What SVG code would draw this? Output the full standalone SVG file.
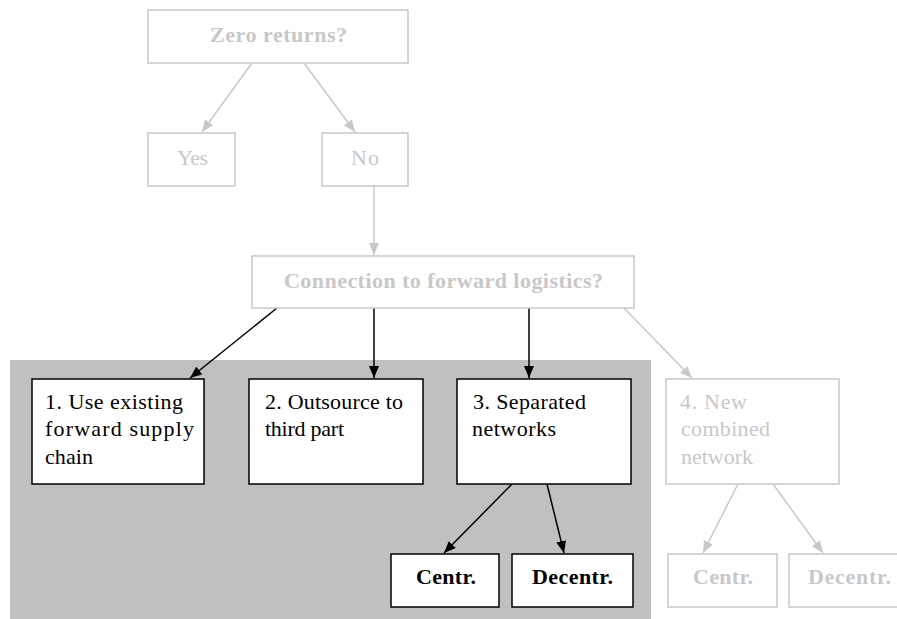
<svg xmlns="http://www.w3.org/2000/svg" width="897" height="619" viewBox="0 0 897 619">
  <defs>
    <marker id="arrowDark" viewBox="0 0 12 10" refX="12" refY="5" markerWidth="12" markerHeight="10" markerUnits="userSpaceOnUse" orient="auto">
      <path d="M0,0 L12,5 L0,10 Z" fill="#000"/>
    </marker>
    <marker id="arrowLight" viewBox="0 0 12 10" refX="12" refY="5" markerWidth="12" markerHeight="10" markerUnits="userSpaceOnUse" orient="auto">
      <path d="M0,0 L12,5 L0,10 Z" fill="#c8c8c8"/>
    </marker>
  </defs>
  <style>
    .box-dim { fill: #fff; stroke: #c8c8c8; stroke-width: 1.5; }
    .box { fill: #fff; stroke: #000; stroke-width: 1.5; }
    .t { font-family: "Liberation Serif", "Times New Roman", serif; font-size: 22px; }
    .t-dim { fill: #c8c8c8; }
    .t-dark { fill: #000; }
    .b { font-weight: bold; }
    .edge-dark { stroke: #000; stroke-width: 1.5; fill: none; marker-end: url(#arrowDark); }
    .edge-dim { stroke: #c8c8c8; stroke-width: 1.5; fill: none; marker-end: url(#arrowLight); }
  </style>

  <!-- shaded region behind the chosen options -->
  <rect x="10" y="360" width="641" height="259" fill="#c0c0c0"/>

  <g id="connectors">
    <line class="edge-dim" x1="252" y1="63" x2="202" y2="132"/>
    <line class="edge-dim" x1="304" y1="63" x2="355" y2="132"/>
    <line class="edge-dim" x1="374" y1="186" x2="374" y2="255"/>
    <line class="edge-dark" x1="277" y1="308" x2="190" y2="378"/>
    <line class="edge-dark" x1="374" y1="308" x2="374" y2="378"/>
    <line class="edge-dark" x1="529" y1="308" x2="529" y2="378"/>
    <line class="edge-dim" x1="624" y1="308" x2="692" y2="378"/>
    <line class="edge-dark" x1="512" y1="484" x2="444" y2="553"/>
    <line class="edge-dark" x1="547" y1="484" x2="564" y2="553"/>
    <line class="edge-dim" x1="738" y1="484" x2="703" y2="553"/>
    <line class="edge-dim" x1="773" y1="484" x2="823" y2="553"/>
  </g>

  <g id="zero-returns">
    <rect class="box-dim" x="148" y="10" width="260" height="53"/>
    <text class="t t-dim b" x="210" y="42" textLength="137" lengthAdjust="spacing">Zero returns?</text>
  </g>
  <g id="yes">
    <rect class="box-dim" x="148" y="133" width="87" height="53"/>
    <text class="t t-dim" x="177" y="165" textLength="31" lengthAdjust="spacing">Yes</text>
  </g>
  <g id="no">
    <rect class="box-dim" x="322" y="133" width="86" height="53"/>
    <text class="t t-dim" x="351" y="165" textLength="28" lengthAdjust="spacing">No</text>
  </g>
  <g id="connection">
    <rect class="box-dim" x="252" y="256" width="382" height="52"/>
    <text class="t t-dim b" x="284" y="288" textLength="319" lengthAdjust="spacing">Connection to forward logistics?</text>
  </g>
  <g id="opt1">
    <rect class="box" x="32" y="379" width="172" height="105"/>
    <text class="t t-dark" x="45" y="409" textLength="138" lengthAdjust="spacing">1. Use existing</text>
    <text class="t t-dark" x="45" y="436" textLength="149" lengthAdjust="spacing">forward supply</text>
    <text class="t t-dark" x="45" y="464" textLength="48" lengthAdjust="spacing">chain</text>
  </g>
  <g id="opt2">
    <rect class="box" x="249" y="379" width="174" height="105"/>
    <text class="t t-dark" x="265" y="409" textLength="138" lengthAdjust="spacing">2. Outsource to</text>
    <text class="t t-dark" x="265" y="436" textLength="79" lengthAdjust="spacing">third part</text>
  </g>
  <g id="opt3">
    <rect class="box" x="457" y="379" width="174" height="105"/>
    <text class="t t-dark" x="473" y="409" textLength="113" lengthAdjust="spacing">3. Separated</text>
    <text class="t t-dark" x="472" y="436" textLength="84" lengthAdjust="spacing">networks</text>
  </g>
  <g id="opt4">
    <rect class="box-dim" x="666" y="379" width="173" height="105"/>
    <text class="t t-dim" x="680" y="409" textLength="67" lengthAdjust="spacing">4. New</text>
    <text class="t t-dim" x="681" y="436" textLength="89" lengthAdjust="spacing">combined</text>
    <text class="t t-dim" x="681" y="464" textLength="72" lengthAdjust="spacing">network</text>
  </g>
  <g id="centr3">
    <rect class="box" x="391" y="554" width="108" height="53"/>
    <text class="t t-dark b" x="416" y="584" textLength="60" lengthAdjust="spacing">Centr.</text>
  </g>
  <g id="decentr3">
    <rect class="box" x="512" y="554" width="121" height="53"/>
    <text class="t t-dark b" x="532" y="584" textLength="81" lengthAdjust="spacing">Decentr.</text>
  </g>
  <g id="centr4">
    <rect class="box-dim" x="668" y="554" width="109" height="53"/>
    <text class="t t-dim b" x="693" y="584" textLength="60" lengthAdjust="spacing">Centr.</text>
  </g>
  <g id="decentr4">
    <rect class="box-dim" x="789" y="554" width="110" height="53"/>
    <text class="t t-dim b" x="808" y="584" textLength="83" lengthAdjust="spacing">Decentr.</text>
  </g>
</svg>
